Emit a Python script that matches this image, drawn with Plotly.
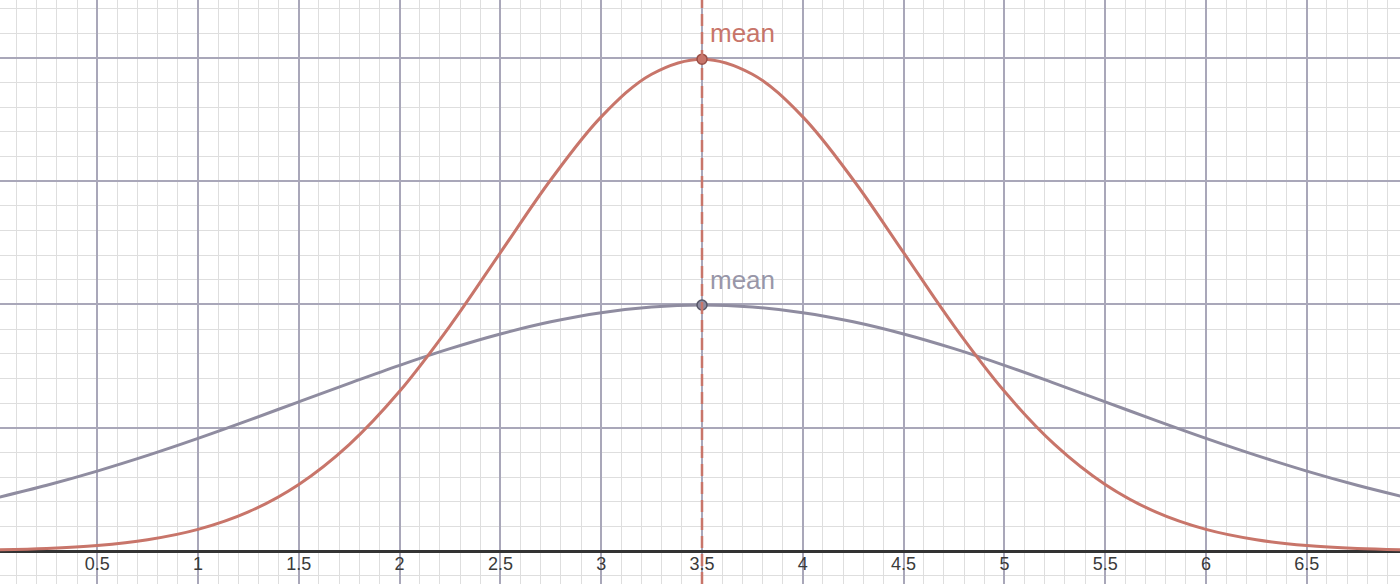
import plotly.graph_objects as go

# Data
x_vals = [0, 0.25, 0.5, 0.75, 1, 1.25, 1.5, 1.75, 2, 2.25, 2.5, 2.75, 3, 3.25, 3.5,
          3.75, 4, 4.25, 4.5, 4.75, 5, 5.25, 5.5, 5.75, 6, 6.25, 6.5, 6.75, 7]
red_vals = [0.0009, 0.0020, 0.0044, 0.0091, 0.0175, 0.0317, 0.0540, 0.0863, 0.1295,
            0.1826, 0.2420, 0.3011, 0.3521, 0.3867, 0.3989,
            0.3867, 0.3521, 0.3011, 0.2420, 0.1826, 0.1295, 0.0863, 0.0540, 0.0317,
            0.0175, 0.0091, 0.0044, 0.0020, 0.0009]
gray_vals = [0.0431, 0.0533, 0.0648, 0.0775, 0.0913, 0.1059, 0.1210, 0.1360, 0.1506,
             0.1641, 0.1760, 0.1859, 0.1933, 0.1979, 0.1995,
             0.1979, 0.1933, 0.1859, 0.1760, 0.1641, 0.1506, 0.1360, 0.1210, 0.1059,
             0.0913, 0.0775, 0.0648, 0.0533, 0.0431]
mean_x = 3.5
red_peak = 0.3989
gray_peak = 0.1995
tick_vals = [0.5, 1, 1.5, 2, 2.5, 3, 3.5, 4, 4.5, 5, 5.5, 6, 6.5]
tick_text = ["0.5", "1", "1.5", "2", "2.5", "3", "3.5", "4", "4.5", "5", "5.5", "6", "6.5"]
label_text = "mean"

RED = "#c8756a"
GRAY = "#8f8ca0"

fig = go.Figure()
fig.add_trace(go.Scatter(x=x_vals, y=gray_vals, mode="lines", line=dict(color=GRAY, width=3, shape="spline"),
                         hoverinfo="skip"))
fig.add_trace(go.Scatter(x=x_vals, y=red_vals, mode="lines", line=dict(color=RED, width=3, shape="spline"),
                         hoverinfo="skip"))
fig.add_shape(type="line", x0=mean_x, x1=mean_x, y0=0, y1=1, xref="x", yref="paper",
              line=dict(color=RED, width=2.5, dash="12px,6px"))
fig.add_trace(go.Scatter(x=[mean_x], y=[gray_peak], mode="markers",
                         marker=dict(color=GRAY, size=10, line=dict(color="#555566", width=1.5))))
fig.add_trace(go.Scatter(x=[mean_x], y=[red_peak], mode="markers",
                         marker=dict(color=RED, size=10, line=dict(color="#9a4e45", width=1.5))))

fig.add_annotation(x=mean_x, y=red_peak, text=label_text, showarrow=False, xanchor="left", yanchor="middle",
                   xshift=6, yshift=26, font=dict(family="Liberation Sans, Arial", size=26, color=RED))
fig.add_annotation(x=mean_x, y=gray_peak, text=label_text, showarrow=False, xanchor="left", yanchor="middle",
                   xshift=6, yshift=25, font=dict(family="Liberation Sans, Arial", size=26, color="#9896a8"))

px_per_unit = 201.6
x0 = 1 - 198 / px_per_unit
x1 = x0 + 1400 / px_per_unit
y_top = 551 / 1233
y_bot = -33 / 1233

fig.update_layout(
    width=1400, height=584,
    margin=dict(l=0, r=0, t=0, b=0),
    paper_bgcolor="white", plot_bgcolor="white",
    showlegend=False,
    xaxis=dict(range=[x0, x1], tickvals=tick_vals, ticktext=tick_text, showgrid=True,
               gridcolor="#a9a7b9", gridwidth=1.5, zeroline=False,
               showline=False, ticks="", anchor="free", position=33 / 584,
               tickfont=dict(family="Liberation Sans, Arial", size=18, color="#3a3a3a"),
               minor=dict(dtick=0.1, showgrid=True, gridcolor="#dedede", gridwidth=1),
               fixedrange=True),
    yaxis=dict(range=[y_bot, y_top], dtick=0.1, showgrid=True, gridcolor="#a9a7b9", gridwidth=1.5,
               zeroline=True, zerolinecolor="#333333", zerolinewidth=2.5,
               showticklabels=False, ticks="",
               minor=dict(dtick=0.02, showgrid=True, gridcolor="#dedede", gridwidth=1),
               fixedrange=True),
)

fig.write_html("out.html", config={"displayModeBar": False},
               post_script="document.body.style.margin='0';document.body.style.overflow='hidden';")
